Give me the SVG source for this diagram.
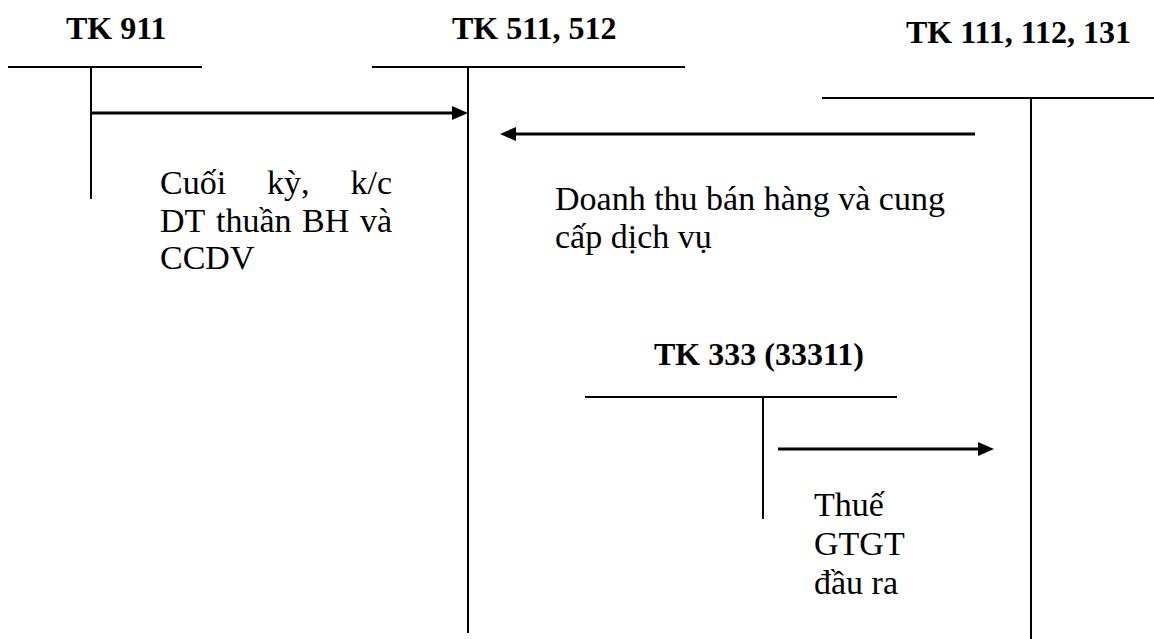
<svg xmlns="http://www.w3.org/2000/svg" width="1154" height="639" viewBox="0 0 1154 639">
  <style>
    .acct { stroke: #000; stroke-width: 2; fill: none; }
    .flow { stroke: #000; stroke-width: 3; fill: none; }
    text { font-family: 'Liberation Serif', Tinos, 'Noto Serif', 'DejaVu Serif', serif; fill: #000; }
    .title { font-weight: bold; font-size: 32px; }
    .note { font-size: 34px; }
  </style>
  <defs>
    <marker id="head" markerUnits="userSpaceOnUse" markerWidth="16" markerHeight="14" refX="6" refY="7" orient="auto">
      <path d="M0,0 L16,7 L0,14 Z" fill="#000"/>
    </marker>
  </defs>
  <rect width="1154" height="639" fill="#fff"/>

  <!-- T-account: TK 911 -->
  <g id="tk911">
    <text class="title" x="66" y="39">TK 911</text>
    <line class="acct" x1="8" y1="67" x2="202" y2="67"/>
    <line class="acct" x1="91" y1="67" x2="91" y2="199"/>
  </g>

  <!-- T-account: TK 511, 512 -->
  <g id="tk511">
    <text class="title" x="452" y="39">TK 511, 512</text>
    <line class="acct" x1="372" y1="67" x2="685" y2="67"/>
    <line class="acct" x1="468" y1="67" x2="468" y2="633"/>
  </g>

  <!-- T-account: TK 111, 112, 131 -->
  <g id="tk111">
    <text class="title" x="906" y="43">TK 111, 112, 131</text>
    <line class="acct" x1="822" y1="98" x2="1154" y2="98"/>
    <line class="acct" x1="1031" y1="98" x2="1031" y2="639"/>
  </g>

  <!-- T-account: TK 333 (33311) -->
  <g id="tk333">
    <text class="title" x="654" y="365">TK 333 (33311)</text>
    <line class="acct" x1="585" y1="397" x2="897" y2="397"/>
    <line class="acct" x1="763" y1="397" x2="763" y2="519"/>
  </g>

  <!-- Entry flows -->
  <g id="connectors">
    <line class="flow" x1="91" y1="113" x2="458" y2="113" marker-end="url(#head)"/>
    <line class="flow" x1="975" y1="134" x2="510" y2="134" marker-end="url(#head)"/>
    <line class="flow" x1="778" y1="449" x2="984" y2="449" marker-end="url(#head)"/>
  </g>

  <!-- Entry descriptions (justified block for the closing entry) -->
  <g id="label-closing">
    <text class="note" y="194"><tspan x="160">Cuối</tspan><tspan x="267">kỳ,</tspan><tspan x="392" text-anchor="end">k/c</tspan></text>
    <text class="note" y="232"><tspan x="160">DT</tspan><tspan x="216">thuần</tspan><tspan x="302">BH</tspan><tspan x="392" text-anchor="end">và</tspan></text>
    <text class="note" x="160" y="269">CCDV</text>
  </g>
  <g id="label-revenue">
    <text class="note" x="555" y="210">Doanh thu bán hàng và cung</text>
    <text class="note" x="555" y="248">cấp dịch vụ</text>
  </g>
  <g id="label-vat">
    <text class="note" x="814" y="516">Thuế</text>
    <text class="note" x="814" y="555">GTGT</text>
    <text class="note" x="814" y="594">đầu ra</text>
  </g>
</svg>
